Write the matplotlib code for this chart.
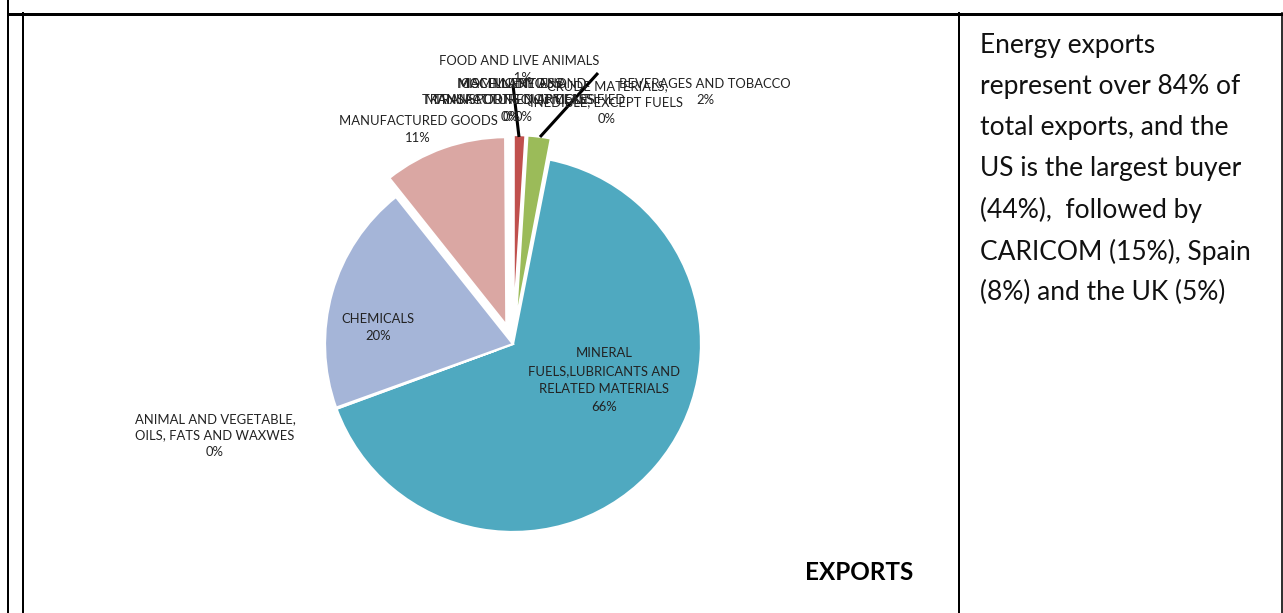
import matplotlib.pyplot as plt
from matplotlib.lines import Line2D

W, H = 1283, 613

categories = ["FOOD AND LIVE ANIMALS", "BEVERAGES AND TOBACCO",
              "CRUDE MATERIALS,\nINEDIBLE, EXCEPT FUELS",
              "MINERAL\nFUELS,LUBRICANTS AND\nRELATED MATERIALS",
              "ANIMAL AND VEGETABLE,\nOILS, FATS AND WAXWES",
              "CHEMICALS", "MANUFACTURED GOODS",
              "MACHINERY AND\nTRANSPORT EQUIPMENT",
              "MISCELLANEOUS\nMANUFACTURED ARTICLES",
              "COMMODITIES AND\nTRANSACTIONS NOT CLASSIFIED"]
shares = [1.0, 2.0, 0.1, 66.3, 0.1, 19.8, 10.6, 0.04, 0.04, 0.02]
colors = ["#C0504D", "#9BBB59", "#8064A2", "#4FA9C0", "#F79646",
          "#A5B5D8", "#DAA7A3", "#4F81BD", "#B9CD96", "#A99BBD"]
# explode in pixels (pie radius is given in pixels too)
explode = [21, 21, 21, 0, 18, 0, 20, 21, 21, 21]

note_lines = ["Energy exports", "represent over 84% of", "total exports, and the",
              "US is the largest buyer", "(44%),  followed by",
              "CARICOM (15%), Spain", "(8%) and the UK (5%)"]

plt.rcParams['font.family'] = ['Lato', 'DejaVu Sans']

fig = plt.figure(figsize=(W / 100, H / 100), dpi=100)

def px(x, y):
    return x / W, 1 - y / H

# pie axes, data units = pixels, centre of pie at (513, 344)
cx, cy, R = 513, 344, 188
x0, x1, y0, y1 = 22, 959, 14, 613
ax = fig.add_axes([x0 / W, 1 - y1 / H, (x1 - x0) / W, (y1 - y0) / H])
wedges, _ = ax.pie(shares, colors=colors, startangle=90, counterclock=False,
                   radius=R, explode=explode,
                   wedgeprops=dict(edgecolor="white", linewidth=1.6))
ax.set_xlim(x0 - cx, x1 - cx)
ax.set_ylim(cy - y1, cy - y0)
ax.set_aspect('auto')
ax.axis('off')

def P(x, y):
    # pixel position to data coordinates
    return x - cx, cy - y

pct = [f"{round(v):.0f}%" for v in shares]
label_pos = [(519, 55), (705, 78), (607, 80), (604, 347), (215, 413),
             (378, 313), (418, 115), (512, 78), (510, 78), (524, 78)]
for i, (lab, (lx, ly)) in enumerate(zip(categories, label_pos)):
    txt = lab + "\n" + pct[i]
    if i == 0:
        txt = lab + "\n  " + pct[i]
    ax.text(*P(lx, ly), txt, ha="center", va="top", fontsize=9.4,
            linespacing=1.6 if i == 3 else 1.45, color="#222222")

# leader lines
leaders = [((519, 137), (513, 85)), ((540, 137), (598, 73))]
for (ax0, ay0), (ax1, ay1) in leaders:
    ax.plot([P(ax0, ay0)[0], P(ax1, ay1)[0]], [P(ax0, ay0)[1], P(ax1, ay1)[1]],
            color="black", lw=2.2, solid_capstyle="butt")

fig.text(*px(805, 573), "EXPORTS", fontsize=17.5, fontweight="bold", va="center",
         ha="left")

for k, line in enumerate(note_lines):
    fig.text(*px(980, 45 + k * 41.3), line, fontsize=19, va="center",
             ha="left", color="#111111")

# table frame
frame = [((8, 0), (8, H), 2.0), ((8, 13.5), (W, 13.5), 3.0),
         ((22.5, 13), (22.5, H), 2.0), ((959, 13), (959, H), 2.0),
         ((1281.5, 13), (1281.5, H), 1.6)]
for (a, b), (c, d), lw in frame:
    xa, ya = px(a, b)
    xb, yb = px(c, d)
    fig.add_artist(Line2D([xa, xb], [ya, yb], transform=fig.transFigure,
                          color="black", lw=lw * 0.72))

fig.savefig("out.png", dpi=100)
